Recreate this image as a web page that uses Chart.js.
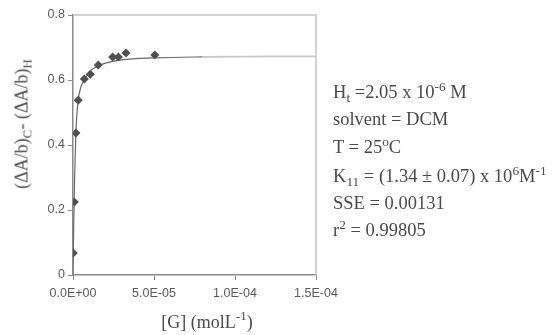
<!DOCTYPE html>
<html>
<head>
<meta charset="utf-8">
<script src="https://cdn.jsdelivr.net/npm/chart.js@4/dist/chart.umd.min.js"></script>
<style>
  html, body { margin: 0; padding: 0; background: #fff; }
  #wrap { position: relative; width: 553px; height: 335px; overflow: hidden; }
  canvas { position: absolute; left: 0; top: 0; }
  .serif { position: absolute; font-family: "Liberation Serif", "Times New Roman", serif; color: #4a4a4a; white-space: nowrap; }
  .serif sub, .serif sup { font-size: 72%; line-height: 0; }
  .serif sub { vertical-align: -0.3em; }
  .serif sup { vertical-align: 0.55em; }
  #ytitle { font-size: 18px; left: 22px; top: 124px; transform: translate(-50%, -50%) rotate(-90deg); }
  #xtitle { font-size: 18px; left: 207px; top: 322px; transform: translate(-50%, -50%); }
  .note { font-size: 18.5px; left: 333px; line-height: 18px; }
</style>
</head>
<body>
<div id="wrap">
  <canvas id="c" width="553" height="335"></canvas>
  <div id="ytitle" class="serif">(ΔA/b)<sub>C</sub>- (ΔA/b)<sub>H</sub></div>
  <div id="xtitle" class="serif">[G] (molL<sup>-1</sup>)</div>
  <div class="serif note" style="top:83px">H<sub>t</sub> =2.05 x 10<sup>-6</sup> M</div>
  <div class="serif note" style="top:110px">solvent = DCM</div>
  <div class="serif note" style="top:138px">T = 25<sup>o</sup>C</div>
  <div class="serif note" style="top:167px">K<sub>11</sub> = (1.34 ± 0.07) x 10<sup>6</sup>M<sup>-1</sup></div>
  <div class="serif note" style="top:194px">SSE = 0.00131</div>
  <div class="serif note" style="top:221px">r<sup>2</sup> = 0.99805</div>
</div>
<script>
// Measured titration points: guest concentration (mol/L) vs. absorbance change
const concG = [0.2e-6, 0.8e-6, 1.8e-6, 3.2e-6, 7.0e-6, 1.07e-5, 1.56e-5, 2.45e-5, 2.8e-5, 3.27e-5, 5.05e-5];
const dAbs  = [0.068, 0.225, 0.437, 0.538, 0.603, 0.618, 0.646, 0.671, 0.671, 0.683, 0.677];

// 1:1 binding fit curve
const fitG   = [0, 0.5e-6, 1.0e-6, 1.8e-6, 3.0e-6, 5.0e-6, 7.0e-6, 1.0e-5, 1.5e-5, 2.0e-5, 3.0e-5, 5.0e-5, 8.0e-5, 1.5e-4];
const fitAbs = [0, 0.17, 0.30, 0.44, 0.53, 0.58, 0.60, 0.625, 0.642, 0.652, 0.662, 0.668, 0.671, 0.673];

// Axis tick labels
const xTickValues = [0, 5e-5, 1e-4, 1.5e-4];
const xTickLabels = ["0.0E+00", "5.0E-05", "1.0E-04", "1.5E-04"];
const yTickValues = [0, 0.2, 0.4, 0.6, 0.8];
const yTickLabels = ["0", "0.2", "0.4", "0.6", "0.8"];

const pts = (xs, ys) => xs.map((x, i) => ({ x: x, y: ys[i] }));

// Light frame along the top and right edges of the plot area
const framePlugin = {
  id: 'frame',
  beforeDatasetsDraw(chart) {
    const { ctx, chartArea: a } = chart;
    ctx.save();
    ctx.strokeStyle = '#c4c4c4';
    ctx.lineWidth = 1.5;
    ctx.beginPath();
    ctx.moveTo(a.left, a.top);
    ctx.lineTo(a.right, a.top);
    ctx.lineTo(a.right, a.bottom);
    ctx.stroke();
    ctx.restore();
  }
};

const tickFont = { family: '"Liberation Sans", Arial, sans-serif', size: 12.5 };

new Chart(document.getElementById('c'), {
  type: 'scatter',
  data: {
    datasets: [
      {
        data: pts(concG, dAbs),
        pointStyle: 'rectRot',
        pointRadius: 4.5,
        backgroundColor: '#505050',
        borderColor: '#505050',
        borderWidth: 0,
        order: 0
      },
      {
        data: pts(fitG, fitAbs),
        showLine: true,
        pointRadius: 0,
        borderColor: '#6a6a6a',
        borderWidth: 1.2,
        cubicInterpolationMode: 'monotone',
        segment: {
          borderColor: c => (c.p0.parsed.x >= 8e-5 ? '#c8c8c8' : '#6a6a6a'),
          borderWidth: c => (c.p0.parsed.x >= 8e-5 ? 1.8 : 1.2)
        },
        order: 1
      }
    ]
  },
  options: {
    responsive: false,
    devicePixelRatio: 1,
    animation: false,
    layout: { padding: { top: 15, right: 237, left: 0, bottom: 0 } },
    plugins: { legend: { display: false }, tooltip: { enabled: false } },
    scales: {
      x: {
        type: 'linear',
        min: 0,
        max: 1.5e-4,
        afterFit: s => { s.height = 60; },
        afterBuildTicks: s => { s.ticks = xTickValues.map(v => ({ value: v })); },
        ticks: {
          callback: (v, i) => xTickLabels[i],
          font: tickFont,
          color: '#5a5a5a',
          padding: 6,
          maxRotation: 0
        },
        grid: { drawOnChartArea: false, drawTicks: true, tickLength: 5, color: '#8a8a8a' },
        border: { display: true, color: '#8a8a8a', width: 1.5 }
      },
      y: {
        type: 'linear',
        min: 0,
        max: 0.8,
        afterFit: s => { s.width = 73; },
        afterBuildTicks: s => { s.ticks = yTickValues.map(v => ({ value: v })); },
        ticks: {
          callback: (v, i) => yTickLabels[i],
          font: tickFont,
          color: '#5a5a5a',
          padding: 3
        },
        grid: { drawOnChartArea: false, drawTicks: true, tickLength: 5, color: '#8a8a8a' },
        border: { display: true, color: '#8a8a8a', width: 1.5 }
      }
    }
  },
  plugins: [framePlugin]
});
</script>
</body>
</html>
